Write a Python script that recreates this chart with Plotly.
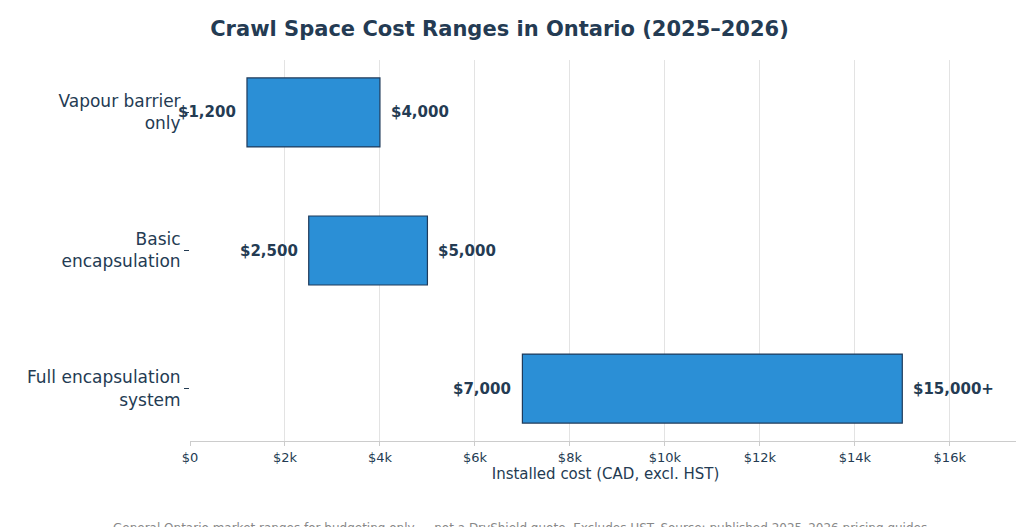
import plotly.graph_objects as go

categories = ["Vapour barrier<br>only", "Basic<br>encapsulation", "Full encapsulation<br>system"]
low = [1200, 2500, 7000]
high = [4000, 5000, 15000]
low_labels = ["$1,200", "$2,500", "$7,000"]
high_labels = ["$4,000", "$5,000", "$15,000+"]
tick_vals = [0, 2000, 4000, 6000, 8000, 10000, 12000, 14000, 16000]
tick_text = ["$0", "$2k", "$4k", "$6k", "$8k", "$10k", "$12k", "$14k", "$16k"]

navy = "#243b53"
fig = go.Figure()

fig.add_trace(go.Bar(
    y=categories,
    x=[h - l for h, l in zip(high, low)],
    base=low,
    orientation="h",
    width=0.5,
    marker=dict(color="#2b8fd6", line=dict(color="#1f3a5a", width=1.2)),
    hoverinfo="skip",
))

# etiquetas de los extremos, en negrita y separadas de la barra
annotations = []
for cat, lo, hi, lt, ht in zip(categories, low, high, low_labels, high_labels):
    annotations.append(dict(x=lo, y=cat, text=f"<b>{lt}</b>", showarrow=False,
                            xanchor="right", xshift=-9,
                            font=dict(size=15, color=navy)))
    annotations.append(dict(x=hi, y=cat, text=f"<b>{ht}</b>", showarrow=False,
                            xanchor="left", xshift=9,
                            font=dict(size=15, color=navy)))

annotations.append(dict(
    text="General Ontario market ranges for budgeting only — not a DryShield quote. Excludes HST. Source: published 2025–2026 pricing guides.",
    xref="paper", yref="paper", x=0.40, xanchor="center", y=-0.205, yanchor="top",
    showarrow=False, font=dict(size=12, color="#888888")))

fig.update_layout(
    width=1024, height=527,
    showlegend=False,
    plot_bgcolor="white", paper_bgcolor="white",
    font=dict(family="DejaVu Sans", color=navy),
    title=dict(text="<b>Crawl Space Cost Ranges in Ontario (2025–2026)</b>",
               x=0.48, xanchor="center", y=0.96, yanchor="middle",
               font=dict(size=21, color=navy)),
    margin=dict(l=182, r=11, t=52, b=94),
    xaxis=dict(range=[0, 17500], tickvals=tick_vals, ticktext=tick_text,
               automargin=False,
               showgrid=True, gridcolor="#e3e3e3", zeroline=False,
               showline=True, linecolor="#cccccc", ticks="outside",
               ticklen=4, tickcolor="#cccccc",
               tickfont=dict(size=13, color=navy),
               title=dict(text="Installed cost (CAD, excl. HST)",
                          font=dict(size=15, color=navy), standoff=4)),
    yaxis=dict(categoryorder="array", categoryarray=categories,
               automargin=False,
               autorange=False, range=[2.38, -0.38],
               showgrid=False, zeroline=False, showline=False,
               ticks="outside", ticklen=5, tickcolor=navy,
               tickfont=dict(size=17, color=navy)),
    annotations=annotations,
)

fig.write_html("out.html")
